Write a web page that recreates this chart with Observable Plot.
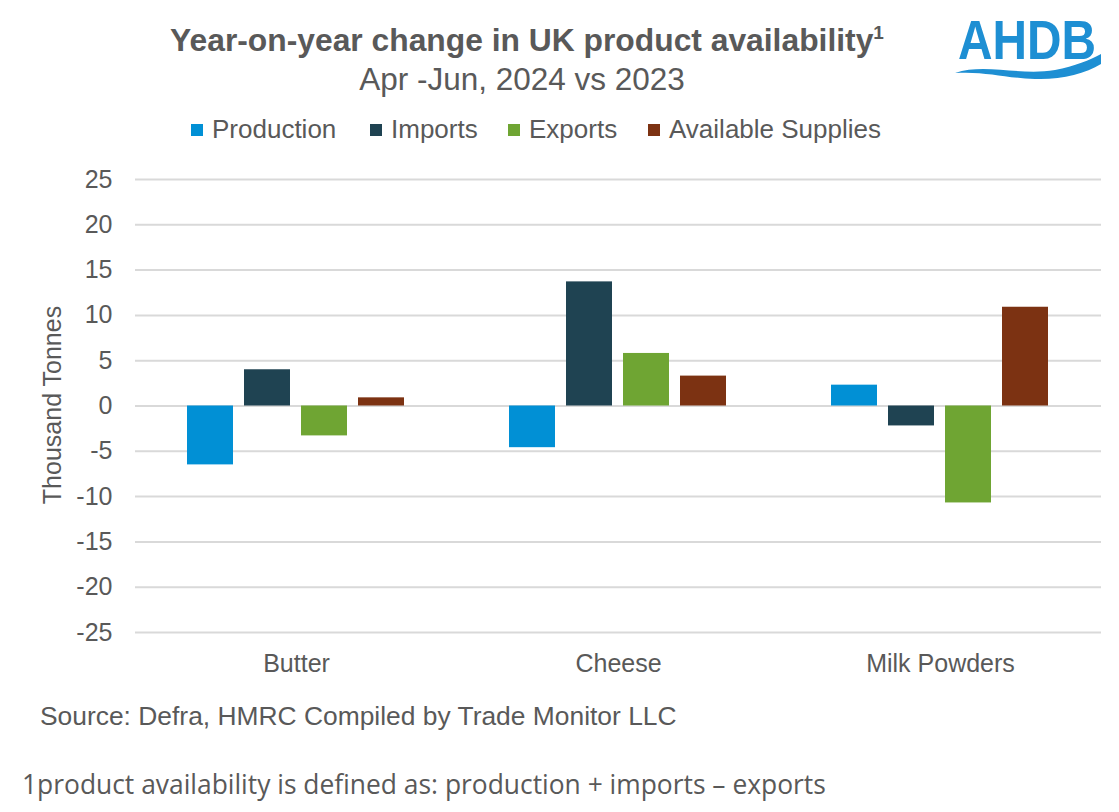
<!DOCTYPE html>
<html>
<head>
<meta charset="utf-8">
<script src="https://cdn.jsdelivr.net/npm/d3@7"></script>
<script src="https://cdn.jsdelivr.net/npm/@observablehq/plot@0.6"></script>
<style>
  html, body { margin: 0; padding: 0; background: #fff; }
  #wrap { position: relative; width: 1119px; height: 812px; overflow: hidden; font-family: "Liberation Sans", Arial, sans-serif; color: #595959; }
  #head { position: relative; height: 160px; }
  .abs { position: absolute; white-space: nowrap; }
  #title { left: 0; width: 1054px; top: 22px; text-align: center; font-weight: bold; font-size: 31.8px; }
  #title sup { font-size: 19px; vertical-align: 12px; line-height: 0; }
  #subtitle { left: 0; width: 1044px; top: 61px; text-align: center; font-size: 31.5px; }
  .leg { top: 114px; font-size: 26px; display: flex; align-items: center; }
  .sw { width: 12px; height: 12px; display: inline-block; margin-right: 9px; }
  #chart { position: absolute; left: 0; top: 160px; }
  #ylabel { left: 52px; top: 405px; font-size: 25px; transform: translate(-50%, -50%) rotate(-90deg); }
  #source { left: 40px; top: 701px; font-size: 26.4px; }
  #note { left: 22px; top: 766px; font-size: 26.4px; font-family: "Open Sans", sans-serif; }
</style>
</head>
<body>
<div id="wrap">
  <div id="head">
    <div class="abs" id="title">Year-on-year change in UK product availability<sup>1</sup></div>
    <div class="abs" id="subtitle">Apr -Jun, 2024 vs 2023</div>
    <div id="legend"></div>
    <svg class="abs" style="left:940px;top:0px" width="179" height="90" viewBox="940 0 179 90">
      <text x="958" y="59" font-family="Liberation Sans, Arial, sans-serif" font-weight="bold" font-size="56" fill="#1e8fd3" textLength="138" lengthAdjust="spacingAndGlyphs">AHDB</text>
      <path d="M955,73 C985,63 1020,76 1055,70 C1075,66 1090,60 1101,54 L1101,64 C1085,74 1060,80 1035,79 C1005,78 985,71 955,73 Z" fill="#1e8fd3"/>
    </svg>
  </div>
  <div id="chart"></div>
  <div class="abs" id="ylabel">Thousand Tonnes</div>
  <div class="abs" id="source">Source: Defra, HMRC Compiled by Trade Monitor LLC</div>
  <div class="abs" id="note">1product availability is defined as: production + imports – exports</div>
</div>
<script>
const categories = ["Butter", "Cheese", "Milk Powders"];
const series = ["Production", "Imports", "Exports", "Available Supplies"];
const colors = ["#0190d5", "#1f4352", "#6fa533", "#7c3212"];
const production = [-6.5, -4.6, 2.3];
const imports = [4.0, 13.7, -2.2];
const exportsVals = [-3.3, 5.8, -10.7];
const available = [0.9, 3.3, 10.9];
const yTicks = [-25, -20, -15, -10, -5, 0, 5, 10, 15, 20, 25];
const legendLeft = [191, 370, 508, 648];

const seriesValues = [production, imports, exportsVals, available];
const data = [];
categories.forEach((c, i) => {
  series.forEach((s, j) => data.push({category: c, series: s, value: seriesValues[j][i]}));
});

// legend
const legend = document.getElementById("legend");
series.forEach((s, j) => {
  const d = document.createElement("div");
  d.className = "abs leg";
  d.style.left = legendLeft[j] + "px";
  d.innerHTML = `<span class="sw" style="background:${colors[j]}"></span><span>${s}</span>`;
  legend.appendChild(d);
});

const chart = Plot.plot({
  width: 1119,
  height: 530,
  marginTop: 19,
  marginBottom: 58,
  marginLeft: 135,
  marginRight: 18,
  style: {fontFamily: "Liberation Sans, Arial, sans-serif", fontSize: "25px", color: "#595959", background: "transparent"},
  fx: {domain: categories, padding: 0, label: null, tickSize: 0, tickPadding: 22},
  x: {domain: series, axis: null, paddingInner: 0.19, paddingOuter: 0.871},
  y: {domain: [-25, 25], ticks: yTicks, tickSize: 0, tickPadding: 23, label: null, tickFormat: d => String(d)},
  color: {domain: series, range: colors},
  marks: [
    Plot.ruleY(yTicks, {stroke: "#d9d9d9", strokeWidth: 2}),
    Plot.barY(data, {fx: "category", x: "series", y: "value", fill: "series"})
  ]
});
document.getElementById("chart").appendChild(chart);
</script>
</body>
</html>
